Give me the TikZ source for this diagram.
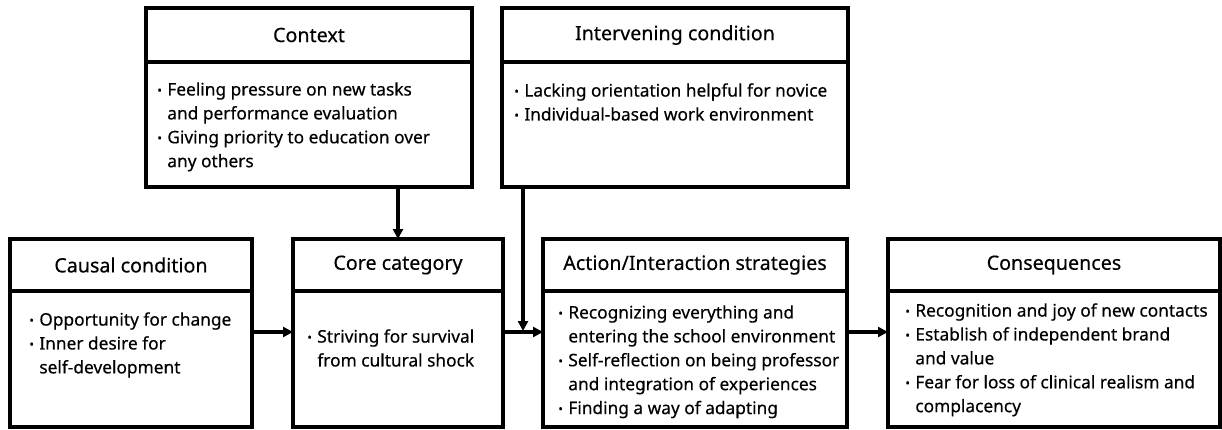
\documentclass[tikz,border=0pt]{standalone}
\usepackage{fontspec}
\setmainfont{Noto Sans}[FakeBold=0.4]
\usetikzlibrary{arrows.meta,positioning}
\newcommand{\bul}{\makebox[0.2cm][l]{\raisebox{0.1ex}{\scalebox{0.7}{\textbullet}}}}
\newcommand{\cnt}{\hspace*{0.2cm}}

\begin{document}
\begin{tikzpicture}[
        x=0.02cm, y=-0.02cm,
        head/.style={draw, line width=1.8pt, anchor=north west, inner sep=0pt, outer sep=0pt, font=\fontsize{11.2}{13}\selectfont},
        body/.style={draw, line width=1.8pt, inner sep=0pt, outer sep=0pt},
        list/.style={align=left, inner sep=0pt, font=\fontsize{9.85}{13.6}\selectfont},
        arrow/.style={-{Triangle[length=0.2cm, width=0.2cm]}, line width=1.8pt}
    ]
    \useasboundingbox (0,0) rectangle (1222,429);

    % top row
    \node[head, minimum width=6.52cm, minimum height=1.08cm] (context) at (146,8) {Context};
    \node[body, below=0pt of context, minimum width=6.52cm, minimum height=2.5cm] (contextb) {};
    \node[head, minimum width=6.92cm, minimum height=1.08cm] (inter) at (502,8) {Intervening condition};
    \node[body, below=0pt of inter, minimum width=6.92cm, minimum height=2.5cm] (interb) {};

    % bottom row
    \node[head, minimum width=4.84cm, minimum height=1.04cm] (causal) at (10,239) {Causal condition};
    \node[body, below=0pt of causal, minimum width=4.84cm, minimum height=2.72cm] (causalb) {};
    \node[head, minimum width=4.2cm, minimum height=1.04cm] (core) at (293,239) {Core category};
    \node[body, below=0pt of core, minimum width=4.2cm, minimum height=2.72cm] (coreb) {};
    \node[head, minimum width=6.08cm, minimum height=1.04cm] (action) at (543,239) {Action/Interaction strategies};
    \node[body, below=0pt of action, minimum width=6.08cm, minimum height=2.72cm] (actionb) {};
    \node[head, minimum width=6.64cm, minimum height=1.04cm] (cons) at (888,239) {Consequences};
    \node[body, below=0pt of cons, minimum width=6.64cm, minimum height=2.72cm] (consb) {};

    \node[list, below right=0.4cm and 0.22cm of contextb.north west] (contextl) {\bul Feeling pressure on new tasks\\\cnt and performance evaluation\\\bul Giving priority to education over\\\cnt any others};
    \node[list, below right=0.42cm and 0.24cm of interb.north west] (interl) {\bul Lacking orientation helpful for novice\\\bul Individual-based work environment};
    \node[list, below right=0.42cm and 0.38cm of causalb.north west] (causall) {\bul Opportunity for change\\\bul Inner desire for\\\cnt self-development};
    \node[list, below right=0.76cm and 0.28cm of coreb.north west] (corel) {\bul Striving for survival\\\cnt from cultural shock};
    \node[list, below right=0.28cm and 0.3cm of actionb.north west] (actionl) {\bul Recognizing everything and\\\cnt entering the school environment\\\bul Self-reflection on being professor\\\cnt and integration of experiences\\\bul Finding a way of adapting};
    \node[list, below right=0.24cm and 0.34cm of consb.north west] (consl) {\bul Recognition and joy of new contacts\\\bul Establish of independent brand\\\cnt and value\\\bul Fear for loss of clinical realism and\\\cnt complacency};

    \coordinate (flow) at (0,332);
    \coordinate (join) at (523,331);
    \draw[arrow] (causalb.east |- flow) -- (coreb.west |- flow);
    \draw[arrow] (coreb.east |- flow) -- (actionb.west |- flow);
    \draw[arrow] (actionb.east |- flow) -- (consb.west |- flow);
    \draw[arrow] (contextb.south -| core.north) -- (core.north);
    \draw[arrow] (interb.south -| join) -- (join);
\end{tikzpicture}
\end{document}
